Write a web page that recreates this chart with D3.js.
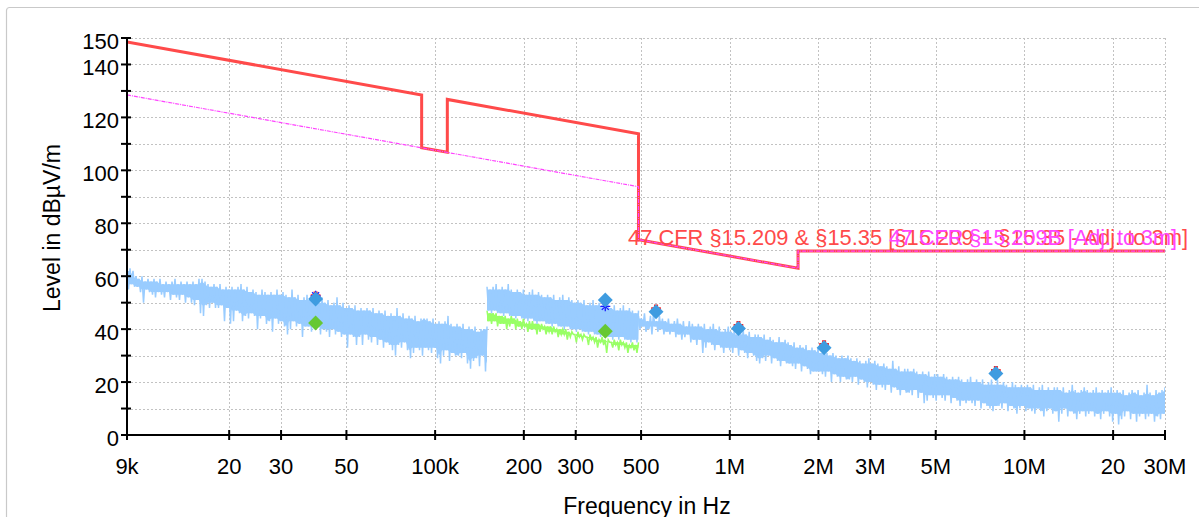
<!DOCTYPE html>
<html>
<head>
<meta charset="utf-8">
<script src="https://cdn.jsdelivr.net/npm/d3@7"></script>
<style>
  body { margin: 0; background: #fff; }
  svg { display: block; font-family: "Liberation Sans", Arial, sans-serif; }
</style>
</head>
<body>
<svg id="chart" width="1199" height="517"></svg>
<script>
// ---- axis ticks ----
const xTickValues = [9e3, 2e4, 3e4, 5e4, 1e5, 2e5, 3e5, 5e5, 1e6, 2e6, 3e6, 5e6, 1e7, 2e7, 3e7];
const xTickLabels = ["9k", "20", "30", "50", "100k", "200", "300", "500", "1M", "2M", "3M", "5M", "10M", "20", "30M"];
const yTickValues = [0, 10, 20, 30, 40, 50, 60, 70, 80, 90, 100, 110, 120, 130, 140, 150];
const yLabelValues = [0, 20, 40, 60, 80, 100, 120, 140, 150];

// ---- limit lines (frequency Hz, level dBµV/m) ----
const peakLimitFreq  = [9e3, 90e3, 90e3, 110e3, 110e3, 490e3, 490e3, 1.705e6, 1.705e6, 30e6];
const peakLimitLevel = [148.5, 128.5, 108.5, 106.8, 126.8, 113.8, 73.8, 63.0, 69.5, 69.5];
const avgLimitFreq   = [9e3, 490e3, 490e3, 1.705e6, 1.705e6, 30e6];
const avgLimitLevel  = [128.5, 93.8, 73.8, 63.0, 69.5, 69.5];
const peakLimitName = "47 CFR §15.209 & §15.35 [§15.209 + §15.35 - Adj. to 3m]";
const avgLimitName  = "47 CFR §15.209B [Adj. to 3m]";

// ---- receiver scans: per frequency bin, highest and lowest level seen ----
const scanA = { start: 9e3, stop: 150e3 };
const scanAHigh = [
  62,63,62,60,59,60,58,59,58,59, 58,59,57,58,57,58,59,57,58,57,
  58,57,58,57,59,59,58,57,56,57, 56,57,55,56,55,56,55,56,57,55,
  56,54,55,54,53,55,54,53,54,53, 55,53,54,53,52,55,52,53,51,52,
  53,51,52,51,50,52,50,51,49,50, 52,49,50,48,49,48,49,47,48,47,
  48,47,48,46,47,46,47,45,46,45, 48,45,46,44,45,44,45,43,44,44,
  44,43,44,42,43,42,43,45,42,41, 42,41,42,40,41,40,41,39,40,40,41
];
const scanALow = [
  55,57,56,56,54,50,55,54,53,52, 54,53,52,54,51,53,52,51,53,50,
  52,50,49,51,46,45,49,48,50,48, 48,49,43,48,42,43,47,46,43,45,
  44,46,45,40,44,45,42,43,39,44, 42,43,41,38,40,43,41,42,37,41,
  41,39,40,41,38,40,39,37,40,38, 39,37,38,33,38,37,34,37,34,38,
  36,35,37,34,36,33,35,34,32,30, 34,33,35,32,29,31,33,32,30,33,
  32,31,33,29,27,30,32,28,31,30, 30,29,31,27,25,28,29,26,30,24,27
];
const scanB = { start: 150e3, stop: 490e3 };
const scanBPeakHigh = [
  56,55,56,57,55,56,55,57,55,54, 55,54,55,53,54,55,53,54,53,52,
  53,52,53,51,52,53,51,52,51,50, 51,50,51,49,50,51,49,50,49,48,
  49,48,49,47,48,49,47,48,47,46,47
];
const scanBPeakLow = [
  47,46,47,46,46,45,46,45,45,44, 45,44,44,43,44,43,42,43,43,42,
  42,41,42,41,41,40,41,40,40,39, 40,39,39,38,39,38,38,37,38,37,
  37,36,37,36,37,36,36,35,36,35,36
];
const scanBAvgHigh = [
  47,46,46,46,45,45,45,44,45,44, 44,43,44,42,43,43,42,42,42,41,
  41,41,41,40,40,40,40,39,39,38, 39,38,38,37,38,37,37,36,37,36,
  36,35,36,35,36,35,35,34,35,34,35
];
const scanBAvgLow = [
  43,42,43,41,42,42,40,41,42,40, 41,40,41,39,40,40,38,39,40,38,
  39,38,39,37,38,38,36,37,38,35, 37,36,37,34,36,35,33,35,34,31,
  35,33,34,32,34,33,31,33,32,31,33
];
const scanC = { start: 490e3, stop: 30e6 };
const scanCHigh = [
  45,44,46,43,45,46,43,45,44,43, 44,42,43,44,42,43,41,43,42,41,
  42,41,42,40,41,42,40,41,39,40, 41,39,40,38,41,40,38,39,37,38,
  38,37,38,36,37,36,35,37,35,36, 35,34,35,33,34,33,34,32,33,32,
  33,31,32,31,30,31,30,29,30,29, 30,29,28,29,28,27,28,29,27,28,
  27,26,27,26,25,28,25,26,24,25, 25,24,25,24,23,24,23,24,22,23,
  23,22,23,22,21,22,21,22,21,20, 21,22,20,21,20,21,19,20,21,19,
  21,19,20,19,18,20,19,18,19,18, 19,18,19,17,18,19,17,18,17,18,
  18,17,18,16,17,19,17,16,17,18, 17,16,17,18,16,17,16,17,18,16,
  17,16,17,15,16,17,16,17,15,16, 19,16,15,17,16,17,18
];
const scanCLow = [
  40,41,39,40,38,41,39,40,38,39, 38,39,37,38,36,37,38,35,36,34,
  36,31,33,35,34,32,34,33,31,33, 32,31,33,30,32,31,29,31,30,28,
  27,29,28,30,27,29,28,26,28,27, 27,26,25,27,24,26,25,23,24,24,
  24,23,22,24,20,23,22,20,22,21, 21,20,22,19,21,20,18,20,19,17,
  19,18,17,19,16,18,17,15,17,16, 16,15,17,14,16,12,13,15,14,13,
  15,14,13,15,12,14,13,11,13,12, 13,12,11,13,10,12,11,10,9,11,
  11,10,12,9,11,10,8,10,11,9, 10,9,8,10,9,7,9,10,8,9,
  5,8,10,7,9,8,6,8,9,7, 8,9,7,8,6,8,9,7,5,8,
  4,6,7,9,6,8,5,7,8,6, 7,8,5,7,6,8,7
];

// ---- final measurement results ----
const finalFreq  = [39.3e3, 378e3, 562e3, 1.07e6, 2.09e6, 8.0e6];
const finalPeak  = [51.4, 51.0, 46.6, 40.2, 33.0, 23.2];
const finalAvgFreq  = [39.3e3, 378e3];
const finalAvgLevel = [42.3, 39.2];
const qpFreq  = [39.3e3, 562e3, 1.07e6, 2.09e6, 8.0e6];
const qpLevel = [52.4, 47.5, 41.2, 34.0, 24.2];
const avFreq  = [39.3e3, 378e3];
const avLevel = [52.6, 48.6];

// ---- layout ----
const svg = d3.select("#chart");
const x = d3.scaleLog().domain([9e3, 30e6]).range([127, 1165]);
const y = d3.scaleLinear().domain([0, 150]).range([435, 38]);

// outer frame
svg.append("rect")
  .attr("x", 6.5).attr("y", 7.5).attr("width", 1210).attr("height", 530)
  .attr("rx", 3).attr("fill", "#fff").attr("stroke", "#c9c9c9").attr("stroke-width", 1.2);

// grid
const grid = svg.append("g").attr("stroke", "#c2c2c2").attr("stroke-width", 1).attr("stroke-dasharray", "2,2");
grid.selectAll("line.h").data(yTickValues.filter(v => v > 0)).join("line")
  .attr("x1", x(9e3)).attr("x2", x(30e6))
  .attr("y1", d => Math.round(y(d)) + 0.5).attr("y2", d => Math.round(y(d)) + 0.5);
grid.selectAll("line.v").data(xTickValues.slice(1)).join("line")
  .attr("y1", y(150)).attr("y2", y(0))
  .attr("x1", d => Math.round(x(d)) + 0.5).attr("x2", d => Math.round(x(d)) + 0.5);

svg.append("clipPath").attr("id", "plot").append("rect")
  .attr("x", x(9e3)).attr("y", y(150)).attr("width", x(30e6) - x(9e3)).attr("height", y(0) - y(150));

// bins are spaced evenly in log frequency between the scan's start and stop
function binFreq(scan, n, i) {
  return scan.start * Math.pow(scan.stop / scan.start, i / (n - 1));
}
// each bin swings from its highest to its lowest reading
function scanSwing(scan, high, low) {
  const n = high.length, pts = [];
  for (let i = 0; i < n; i++) {
    pts.push([binFreq(scan, n, i), high[i]]);
    if (i < n - 1) pts.push([binFreq(scan, n, i + 0.5), low[i]]);
  }
  return pts;
}
// dense core of the trace: range shared by a bin and its neighbours
function scanCore(scan, high, low) {
  const n = high.length;
  return high.map((h, i) => {
    const a = Math.max(0, i - 1), b = Math.min(n, i + 2);
    let top = d3.min(high.slice(a, b)), bot = d3.max(low.slice(a, b));
    if (top < bot) { const m = (top + bot) / 2; top = bot = m; }
    return [binFreq(scan, n, i), top, bot];
  });
}
const line = d3.line().x(d => x(d[0])).y(d => y(d[1]));
const band = d3.area().x(d => x(d[0])).y0(d => y(d[2])).y1(d => y(d[1]));
const data = svg.append("g").attr("clip-path", "url(#plot)");

function drawTrace(scan, high, low, color) {
  data.append("path").attr("d", band(scanCore(scan, high, low)))
    .attr("fill", color).attr("stroke", "none");
  data.append("path").attr("d", line(scanSwing(scan, high, low)))
    .attr("fill", "none").attr("stroke", color).attr("stroke-width", 1.5);
}
// average detector trace (green) under the peak detector trace (blue)
drawTrace(scanB, scanBAvgHigh, scanBAvgLow, "#99ff66");
drawTrace(scanA, scanAHigh, scanALow, "#99ccff");
drawTrace(scanB, scanBPeakHigh, scanBPeakLow, "#99ccff");
drawTrace(scanC, scanCHigh, scanCLow, "#99ccff");

// limit lines
const peakLimit = peakLimitFreq.map((f, i) => [f, peakLimitLevel[i]]);
const avgLimit = avgLimitFreq.map((f, i) => [f, avgLimitLevel[i]]);
data.append("path").attr("d", line(peakLimit)).attr("fill", "none")
  .attr("stroke", "#ff4a4a").attr("stroke-width", 3).attr("stroke-linejoin", "miter");
data.append("path").attr("d", line(avgLimit)).attr("fill", "none")
  .attr("stroke", "#ff44ff").attr("stroke-width", 1.2).attr("stroke-dasharray", "4,1,1,1");

// result markers
const marks = svg.append("g");
const plus = d3.symbol().type(d3.symbolCross).size(40);
marks.selectAll("path.qp").data(qpFreq.map((f, i) => [f, qpLevel[i]])).join("path")
  .attr("d", plus)
  .attr("transform", d => `translate(${x(d[0])},${y(d[1])})`)
  .attr("fill", "none").attr("stroke", "#ff2020").attr("stroke-width", 1.2);
marks.selectAll("path.av").data(avFreq.map((f, i) => [f, avLevel[i]])).join("path")
  .attr("d", () => {
    const r = 5;
    return `M${-r},0H${r}M0,${-r}V${r}M${-r*0.7},${-r*0.7}L${r*0.7},${r*0.7}M${-r*0.7},${r*0.7}L${r*0.7},${-r*0.7}`;
  })
  .attr("transform", d => `translate(${x(d[0])},${y(d[1])})`)
  .attr("fill", "none").attr("stroke", "#1a1aff").attr("stroke-width", 1.3);

const diamond = d3.symbol().type(d3.symbolSquare).size(112);
marks.selectAll("path.pk").data(finalFreq.map((f, i) => [f, finalPeak[i]])).join("path")
  .attr("d", diamond)
  .attr("transform", d => `translate(${x(d[0])},${y(d[1])}) rotate(45)`)
  .attr("fill", "#3f9ce0");
marks.selectAll("path.avd").data(finalAvgFreq.map((f, i) => [f, finalAvgLevel[i]])).join("path")
  .attr("d", diamond)
  .attr("transform", d => `translate(${x(d[0])},${y(d[1])}) rotate(45)`)
  .attr("fill", "#66c833");

// limit names
svg.append("text").attr("x", 628).attr("y", 245).attr("font-size", 21.5)
  .attr("textLength", 560).attr("lengthAdjust", "spacingAndGlyphs")
  .attr("fill", "#ff4a4a").text(peakLimitName);
svg.append("text").attr("x", 889).attr("y", 245).attr("font-size", 21.5)
  .attr("textLength", 288).attr("lengthAdjust", "spacingAndGlyphs")
  .attr("fill", "#ff44ff").text(avgLimitName);

// axes
const axes = svg.append("g").attr("stroke", "#000").attr("stroke-width", 2);
axes.append("line").attr("x1", x(9e3)).attr("x2", x(9e3)).attr("y1", y(150) - 1).attr("y2", y(0) + 1);
axes.append("line").attr("x1", x(9e3) - 1).attr("x2", x(30e6) + 1).attr("y1", y(0)).attr("y2", y(0));
axes.selectAll("line.yt").data(yTickValues).join("line")
  .attr("x1", x(9e3) - 6).attr("x2", x(9e3) + 4).attr("y1", d => y(d)).attr("y2", d => y(d));
axes.selectAll("line.xt").data(xTickValues).join("line")
  .attr("x1", d => x(d)).attr("x2", d => x(d)).attr("y1", y(0) - 5).attr("y2", y(0) + 5);

svg.append("g").attr("font-size", 22).attr("text-anchor", "end").attr("fill", "#000")
  .selectAll("text").data(yLabelValues).join("text")
  .attr("x", 119).attr("y", d => y(d) + 11).text(d => d);

svg.append("g").attr("font-size", 22).attr("text-anchor", "middle").attr("fill", "#000")
  .selectAll("text").data(xTickValues).join("text")
  .attr("x", d => x(d)).attr("y", 474).text((d, i) => xTickLabels[i]);

svg.append("text").attr("x", 647).attr("y", 514).attr("font-size", 23)
  .attr("text-anchor", "middle").text("Frequency in Hz");
svg.append("text").attr("transform", "translate(60,228) rotate(-90)").attr("font-size", 23)
  .attr("text-anchor", "middle").text("Level in dBµV/m");
</script>
</body>
</html>
